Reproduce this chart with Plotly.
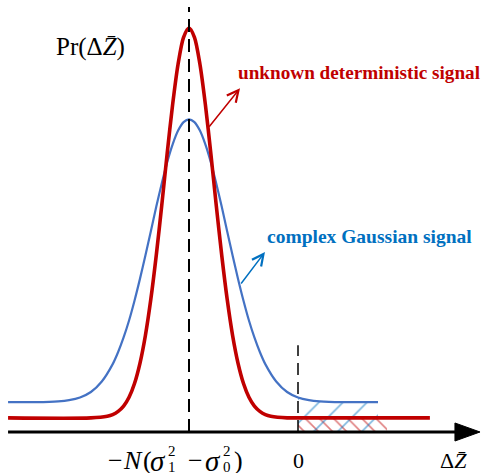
import plotly.graph_objects as go

# ---- data ----
# x in units where the peak sits at -1 (=-N(s1^2-s0^2)) and the threshold at 0
red_x = [-2.66, -1.9, -1.75, -1.7, -1.65, -1.6, -1.55, -1.5, -1.45, -1.4, -1.35, -1.3, -1.25,
         -1.2, -1.15, -1.1, -1.05, -1.0, -0.95, -0.9, -0.85, -0.8, -0.75, -0.7, -0.65,
         -0.6, -0.55, -0.5, -0.45, -0.4, -0.35, -0.3, -0.25, -0.1, 0.0, 1.21]
red_y = [0.035, 0.035, 0.039, 0.043, 0.051, 0.064, 0.086, 0.120, 0.170, 0.239, 0.329, 0.438, 0.561,
         0.690, 0.811, 0.911, 0.977, 1.000, 0.977, 0.911, 0.811, 0.690, 0.561, 0.438, 0.329,
         0.239, 0.170, 0.120, 0.086, 0.064, 0.051, 0.043, 0.039, 0.035, 0.035, 0.035]

blue_x = [-2.66, -2.4, -2.2, -2.1, -2.0, -1.9, -1.8, -1.7, -1.65, -1.6, -1.55, -1.5, -1.45, -1.4,
          -1.35, -1.3, -1.25, -1.2, -1.15, -1.1, -1.05, -1.0, -0.95, -0.9, -0.85, -0.8, -0.75,
          -0.7, -0.65, -0.6, -0.55, -0.5, -0.45, -0.4, -0.35, -0.3, -0.2, -0.1, 0.0, 0.1, 0.2,
          0.4, 0.734]
blue_y = [0.074, 0.074, 0.076, 0.079, 0.0855, 0.099, 0.125, 0.168, 0.198, 0.234, 0.276, 0.325,
          0.379, 0.437, 0.497, 0.558, 0.615, 0.668, 0.712, 0.746, 0.767, 0.774, 0.767, 0.746,
          0.712, 0.668, 0.615, 0.558, 0.497, 0.437, 0.379, 0.325, 0.276, 0.234, 0.198, 0.168,
          0.125, 0.099, 0.0855, 0.079, 0.076, 0.074, 0.074]

red_hatch_end = 0.817
red_level = 0.035

peak_x = -1.0
threshold_x = 0.0

RED = "#C00000"
BLUE_LINE = "#4472C4"
BLUE = "#0070C0"
FONT = "Liberation Serif"
W, H = 484, 473

fig = go.Figure()

# hatched tails
hb_x = [x for x in blue_x if x >= threshold_x]
hb_y = [y for x, y in zip(blue_x, blue_y) if x >= threshold_x]
fig.add_trace(go.Scatter(x=[threshold_x, red_hatch_end], y=[red_level, red_level], mode="lines",
                         line=dict(width=0), fill="tozeroy", fillcolor="rgba(0,0,0,0)",
                         fillpattern=dict(shape="\\", fgcolor=RED, bgcolor="rgba(0,0,0,0)",
                                          size=10, solidity=0.16),
                         hoverinfo="skip"))
fig.add_trace(go.Scatter(x=hb_x, y=hb_y, mode="lines", line=dict(width=0, shape="spline"),
                         fill="tozeroy", fillcolor="rgba(0,0,0,0)",
                         fillpattern=dict(shape="/", fgcolor=BLUE, bgcolor="rgba(0,0,0,0)",
                                          size=17, solidity=0.1),
                         hoverinfo="skip"))

# curves
fig.add_trace(go.Scatter(x=blue_x, y=blue_y, mode="lines",
                         line=dict(color=BLUE_LINE, width=2.2, shape="spline", smoothing=0.8)))
fig.add_trace(go.Scatter(x=red_x, y=red_y, mode="lines",
                         line=dict(color=RED, width=3.6, shape="spline", smoothing=0.8)))

# axis with arrow
shapes = [
    dict(type="line", x0=-2.66, x1=1.45, y0=0, y1=0, line=dict(color="black", width=3)),
    dict(type="path", path="M 1.44,0.0223 L 1.67,0 L 1.44,-0.0223 Z",
         fillcolor="black", line=dict(color="black", width=1)),
    dict(type="line", x0=peak_x, x1=peak_x, y0=0, y1=1.052,
         line=dict(color="black", width=2, dash="13px,7px")),
    dict(type="line", x0=threshold_x, x1=threshold_x, y0=0, y1=0.215,
         line=dict(color="black", width=1.5, dash="12px,7px")),
]


def ptxt(px, py, text, size, color="black", xanchor="left"):
    return dict(x=px / W, y=1 - py / H, xref="paper", yref="paper", text=text,
                showarrow=False, xanchor=xanchor, yanchor="middle", borderpad=0,
                font=dict(family=FONT, size=size, color=color))


annotations = [
    ptxt(55, 47, "Pr(Δ<i>Z\u0304</i>)", 25),
    ptxt(237, 73, "<b>unknown deterministic signal</b>", 19.2, RED),
    ptxt(266, 236, "<b>complex Gaussian signal</b>", 19.5, BLUE),
    dict(x=-0.532, y=0.851, ax=-0.826, ay=0.752, axref="x", ayref="y", text="",
         showarrow=True, arrowhead=5, arrowwidth=1.5, arrowsize=1.5, arrowcolor=RED),
    dict(x=-0.303, y=0.4455, ax=-0.532, ay=0.364, axref="x", ayref="y", text="",
         showarrow=True, arrowhead=5, arrowwidth=1.5, arrowsize=1.5, arrowcolor=BLUE),
    # -N(sigma_1^2 - sigma_0^2), built piece by piece so the indices stack
    ptxt(107, 460, "−", 26),
    ptxt(122, 460, "<i>N</i>", 26),
    ptxt(142, 460, "(", 26),
    ptxt(149, 461, "<i>σ</i>", 29),
    ptxt(167, 451, "2", 15),
    ptxt(167, 467, "1", 15),
    ptxt(187, 460, "−", 26),
    ptxt(204, 461, "<i>σ</i>", 29),
    ptxt(222, 451, "2", 15),
    ptxt(222, 467, "0", 15),
    ptxt(233, 460, ")", 26),
    ptxt(298, 460, "0", 22, xanchor="center"),
    ptxt(453, 460, "Δ<i>Z\u0304</i>", 22, xanchor="center"),
]

fig.update_layout(
    width=W, height=H, margin=dict(l=0, r=0, t=0, b=0),
    paper_bgcolor="white", plot_bgcolor="white", showlegend=False,
    xaxis=dict(range=[-2.7339, 1.7064], visible=False, fixedrange=True),
    yaxis=dict(range=[-0.1015, 1.0693], visible=False, fixedrange=True),
    shapes=shapes, annotations=annotations,
)

fig.write_html("out.html")
